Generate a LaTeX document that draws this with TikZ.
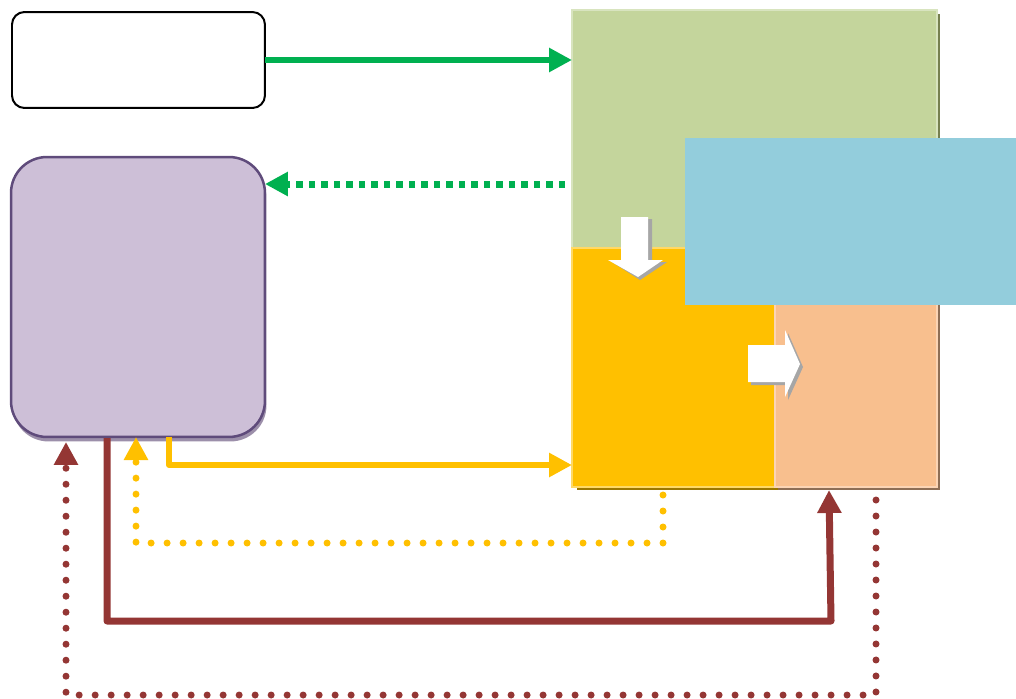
\documentclass[tikz,border=0pt]{standalone}
\usetikzlibrary{arrows.meta,shadows}
\definecolor{gline}{HTML}{00B050}
\definecolor{gbox}{HTML}{C4D59C}
\definecolor{glight}{HTML}{D8E4BF}
\definecolor{gshadow}{HTML}{76804F}
\definecolor{ybox}{HTML}{FFC000}
\definecolor{ylight}{HTML}{FFD966}
\definecolor{yshadow}{HTML}{9C7700}
\definecolor{pbox}{HTML}{F8BF8E}
\definecolor{plight}{HTML}{FBD4B4}
\definecolor{pshadow}{HTML}{8E6E55}
\definecolor{bbox}{HTML}{93CDDC}
\definecolor{vfill}{HTML}{CDBFD7}
\definecolor{vline}{HTML}{5F4B7B}
\definecolor{vshadow}{HTML}{9C8FAA}
\definecolor{rline}{HTML}{943634}
\definecolor{arrshadow}{HTML}{A6A6A6}
\tikzset{
  block/.style={rectangle, inner sep=0pt, outer sep=0pt, anchor=north west},
  tipA/.style={-{Triangle[length=0.46cm,width=0.46cm]}},
  gsolid/.style={draw=gline, line width=0.13cm, tipA},
  gdash/.style={draw=gline, line width=0.14cm, dash pattern=on 0.13cm off 0.12cm, tipA},
  ysolid/.style={draw=ybox, line width=0.12cm, line join=round, tipA},
  ydot/.style={draw=ybox, line width=0.14cm, line cap=round, dash pattern=on 0pt off 0.32cm, tipA},
  rsolid/.style={draw=rline, line width=0.14cm, line join=round, tipA},
  rdot/.style={draw=rline, line width=0.14cm, line cap=round, dash pattern=on 0pt off 0.32cm, tipA},
  whitearrow/.style={fill=white},
  arrowshade/.style={fill=arrshadow}
}
\begin{document}
\begin{tikzpicture}[x=0.02cm,y=-0.02cm]
\useasboundingbox (0,0) rectangle (1016,698);
% left boxes
\node[block, draw=black, fill=white, line width=0.04cm, rounded corners=0.25cm,
      minimum width=5.06cm, minimum height=1.92cm] (top) at (12,12) {};
\node[block, draw=vline, fill=vfill, line width=0.05cm, rounded corners=0.72cm,
      minimum width=5.08cm, minimum height=5.6cm,
      drop shadow={shadow xshift=0.03cm, shadow yshift=-0.09cm, fill=vshadow, opacity=1}] (purple) at (11,157) {};
% right blocks
\node[block, fill=gbox, draw=glight, line width=0.04cm,
      minimum width=7.3cm, minimum height=4.76cm,
      drop shadow={shadow xshift=0.06cm, shadow yshift=-0.08cm, fill=gshadow, opacity=1}] (green) at (572,10) {};
\node[block, fill=ybox, draw=ylight, line width=0.04cm,
      minimum width=4.06cm, minimum height=4.78cm,
      drop shadow={shadow xshift=0.1cm, shadow yshift=-0.07cm, fill=yshadow, opacity=1}] (yellow) at (572,248) {};
\node[block, fill=pbox, draw=plight, line width=0.04cm,
      minimum width=3.24cm, minimum height=4.78cm,
      drop shadow={shadow xshift=0.06cm, shadow yshift=-0.07cm, fill=pshadow, opacity=1}] (peach) at (775,248) {};
\node[block, fill=bbox, minimum width=6.62cm, minimum height=3.34cm] (blue) at (685,138) {};
% white block arrows
\fill[arrowshade] (625,219) -- (652,219) -- (652,262) -- (667,262) -- (640,280) -- (612,262) -- (625,262) -- cycle;
\fill[whitearrow] (621,217) -- (648,217) -- (648,260) -- (663,260) -- (638,277) -- (608,260) -- (621,260) -- cycle;
\fill[arrowshade] (751,348) -- (788,348) -- (788,333) -- (803,367) -- (788,400) -- (788,385) -- (751,385) -- cycle;
\fill[whitearrow] (748,345) -- (785,345) -- (785,330) -- (800,364) -- (785,397) -- (785,382) -- (748,382) -- cycle;
% waypoints
\coordinate (gd) at (565,184);
\coordinate (ya) at (169,437);
\coordinate (yb) at (572,465);
\coordinate (yc) at (663,495);
\coordinate (ye) at (136,543);
\coordinate (ra) at (107,438);
\coordinate (rb) at (831,621);
\coordinate (rc) at (829,490);
\coordinate (rd) at (876,500);
\coordinate (rf) at (66,695);
% connectors
\draw[gsolid] (top.east) -- (top.east -| green.west);
\draw[gdash] (gd) -- (gd -| purple.east);
\draw[ysolid] (ya) |- (yb);
\draw[ydot] (yc) |- (ye) -- (ye |- ya);
\draw[rsolid] (ra) |- (rb) -- (rc);
\draw[rdot] (rd) |- (rf) -- ([yshift=-0.1cm]rf |- purple.south);
\end{tikzpicture}
\end{document}
